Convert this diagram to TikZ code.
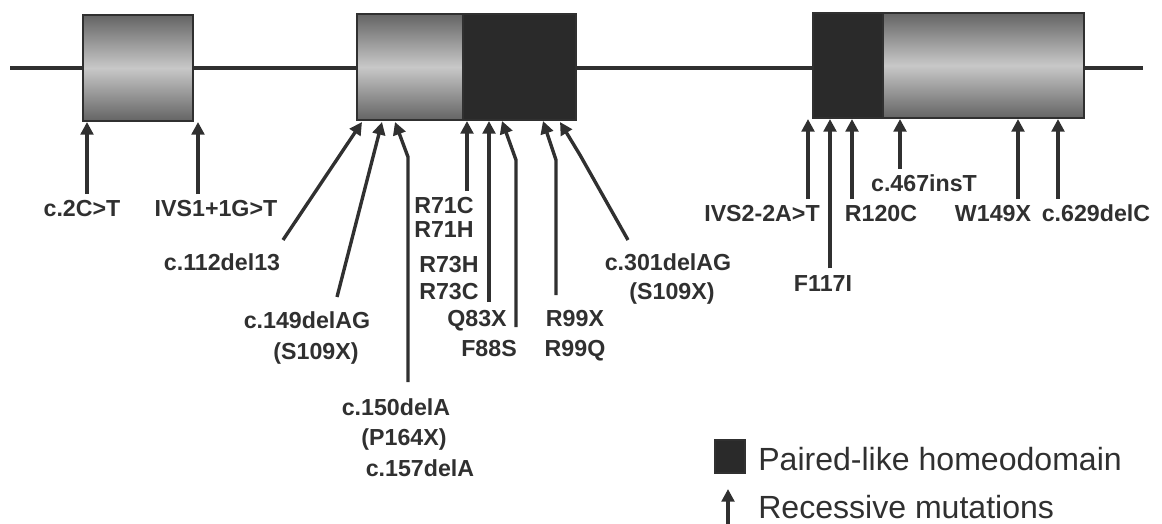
\documentclass[tikz,border=0pt]{standalone}
\usepackage{fontspec}
\setmainfont{Liberation Sans}
\usetikzlibrary{arrows.meta}
\definecolor{inkgray}{RGB}{48,48,48}
\definecolor{exonlight}{RGB}{200,200,200}
\definecolor{exondark}{RGB}{100,100,100}
\definecolor{hdgray}{RGB}{42,42,42}

\tikzset{
  mut/.style={line width=2.4pt, inkgray, -{Triangle[length=9pt,width=9pt]}},
  fromlab/.style={mut, shorten <=4.5pt},
  mutlab/.style={anchor=base, inner sep=0pt, text=inkgray,
    font=\bfseries\fontsize{16.5}{18}\selectfont},
  exon/.style={draw=inkgray, line width=1pt, top color=exondark,
    bottom color=exondark, middle color=exonlight},
  hdbox/.style={draw=inkgray, line width=1pt, fill=hdgray},
  legtext/.style={anchor=base west, inner sep=0pt, text=inkgray,
    font=\fontsize{22.8}{26}\selectfont}
}

\begin{document}
\begin{tikzpicture}[x=0.025cm,y=-0.025cm]
    \useasboundingbox (0,0) rectangle (1162,524);

    % Gene line and the three exons
    \draw[line width=2.6pt,inkgray] (10,68) -- (1143,68);
    \shadedraw[exon] (83,15) rectangle (193,121);
    \shadedraw[exon] (357,14) rectangle (463,120);
    \filldraw[hdbox] (463,14) rectangle (576,120);
    \filldraw[hdbox] (813,13) rectangle (883,118);
    \shadedraw[exon] (883,13) rectangle (1084,118);

    % Mutation sites on the exons
    \coordinate (e1a) at (87,122);
    \coordinate (e1b) at (198,122);
    \coordinate (e2a) at (362,122);
    \coordinate (e2b) at (382,122);
    \coordinate (e2c) at (395,122);
    \coordinate (e2d) at (467,121);
    \coordinate (e2e) at (489,121);
    \coordinate (e2f) at (502,121);
    \coordinate (e2g) at (543,121);
    \coordinate (e2h) at (560,122);
    \coordinate (e3a) at (808,119);
    \coordinate (e3b) at (830,119);
    \coordinate (e3c) at (852,119);
    \coordinate (e3d) at (900,119);
    \coordinate (e3e) at (1018,119);
    \coordinate (e3f) at (1058,119);

    % Labels
    \node[mutlab] (c2) at (82,217) {c.2C>T};
    \node[mutlab] (ivs1) at (216,217) {IVS1+1G>T};
    \node[mutlab] (c112) at (222,270) {c.112del13};
    \node[mutlab] (c149) at (307,328) {c.149delAG};
    \node[mutlab] (s109a) at (316,359) {(S109X)};
    \node[mutlab] (c150) at (396,415) {c.150delA};
    \node[mutlab] (p164) at (404,445) {(P164X)};
    \node[mutlab] (c157) at (420,476) {c.157delA};
    \node[mutlab] (r71c) at (444,214) {R71C};
    \node[mutlab] (r71h) at (444,237) {R71H};
    \node[mutlab] (r73h) at (449,273) {R73H};
    \node[mutlab] (r73c) at (449,300) {R73C};
    \node[mutlab] (q83) at (477,326) {Q83X};
    \node[mutlab] (f88) at (489,356) {F88S};
    \node[mutlab] (r99x) at (575,326) {R99X};
    \node[mutlab] (r99q) at (575,356) {R99Q};
    \node[mutlab] (c301) at (668,270) {c.301delAG};
    \node[mutlab] (s109b) at (672,300) {(S109X)};
    \node[mutlab] (ivs2) at (762,222) {IVS2-2A>T};
    \node[mutlab] (f117) at (823,291) {F117I};
    \node[mutlab] (r120) at (881,222) {R120C};
    \node[mutlab] (c467) at (924,192) {c.467insT};
    \node[mutlab] (w149) at (993,222) {W149X};
    \node[mutlab] (c629) at (1096,222) {c.629delC};

    % Free ends of the arrows
    \coordinate (t112) at (283,240);
    \coordinate (t149) at (337,297);
    \coordinate (t150) at (408,382);
    \coordinate (t73) at (489,302);
    \coordinate (t88) at (516,327);
    \coordinate (t99) at (556,295);
    \coordinate (t301) at (628,240);

    % Arrows
    \draw[fromlab] (c2.north -| e1a) -- (e1a);
    \draw[fromlab] (ivs1.north -| e1b) -- (e1b);
    \draw[mut] (t112) -- (e2a);
    \draw[mut] (t149) -- (e2b);
    \draw[mut] (t150) -- ++(0,-225) -- (e2c);
    \draw[fromlab] (r71c.north -| e2d) -- (e2d);
    \draw[mut] (t73) -- (e2e);
    \draw[mut] (t88) -- ++(0,-167) -- (e2f);
    \draw[mut] (t99) -- ++(0,-135) -- (e2g);
    \draw[mut] (t301) -- ++(-48,-85) -- (e2h);
    \draw[fromlab] (ivs2.north -| e3a) -- (e3a);
    \draw[fromlab] (f117.north -| e3b) -- (e3b);
    \draw[fromlab] (r120.north -| e3c) -- (e3c);
    \draw[fromlab] (c467.north -| e3d) -- (e3d);
    \draw[fromlab] (w149.north -| e3e) -- (e3e);
    \draw[fromlab] (c629.north -| e3f) -- (e3f);

    % Legend
    \filldraw[hdbox] (715,440) rectangle (745,473);
    \node[legtext] (lhd) at (758,470) {Paired-like homeodomain};
    \coordinate (lgtip) at (728,489);
    \coordinate (lgend) at (728,530);
    \draw[mut] (lgend) -- (lgtip);
    \node[legtext] (lrm) at (758,518) {Recessive mutations};
\end{tikzpicture}
\end{document}
